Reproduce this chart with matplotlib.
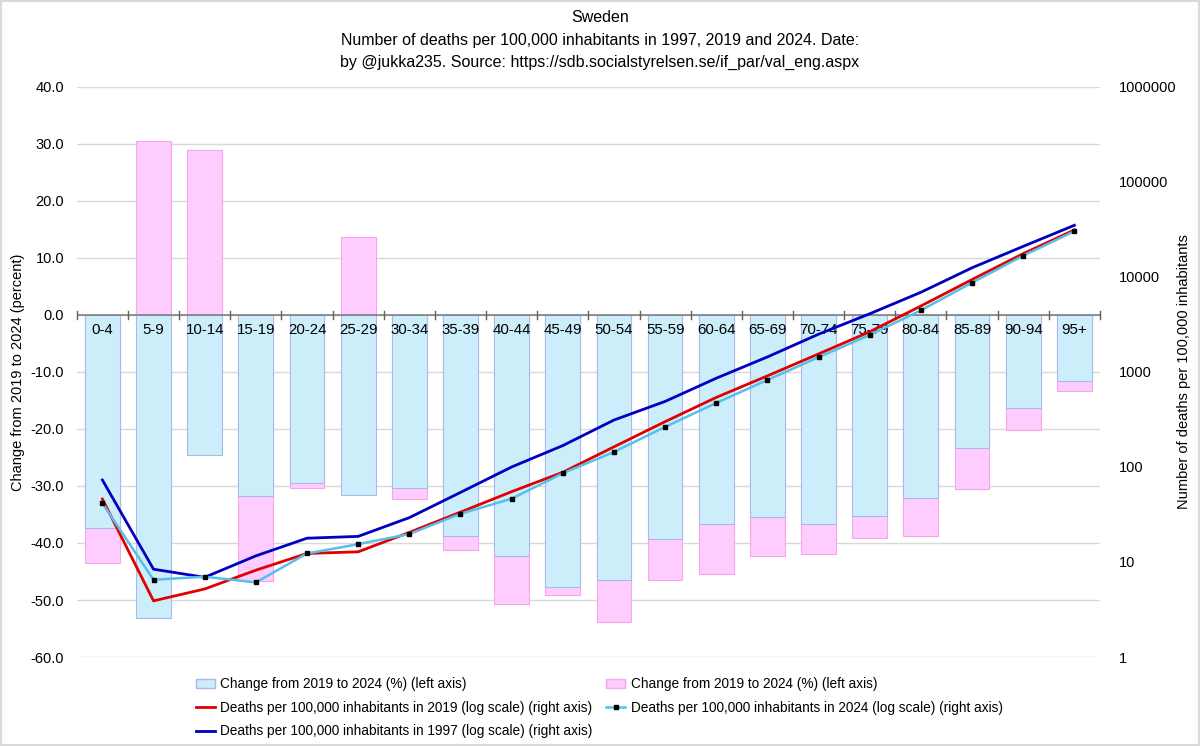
import matplotlib
matplotlib.use("Agg")
import matplotlib.pyplot as plt
from matplotlib.patches import Patch, Rectangle
from matplotlib.lines import Line2D
import numpy as np

categories = ["0-4", "5-9", "10-14", "15-19", "20-24", "25-29", "30-34", "35-39", "40-44", "45-49",
              "50-54", "55-59", "60-64", "65-69", "70-74", "75-79", "80-84", "85-89", "90-94", "95+"]
change_blue = [-37.3, -53.1, -24.5, -31.8, -29.4, -31.6, -30.3, -38.8, -42.2, -47.8,
               -46.5, -39.3, -36.7, -35.5, -36.6, -35.3, -32.1, -23.4, -16.3, -11.6]
change_pink = [-43.5, 30.5, 28.9, -46.7, -30.3, 13.6, -32.2, -41.2, -50.7, -49.2,
               -53.9, -46.5, -45.5, -42.2, -41.9, -39.1, -38.8, -30.5, -20.1, -13.3]
deaths_2019 = [46, 3.9, 5.2, 8.2, 12.3, 12.8, 20.5, 33.5, 55, 88,
               163, 300, 540, 910, 1550, 2650, 4950, 9400, 17600, 31250]
deaths_2024 = [41.5, 6.5, 7.0, 6.1, 12.3, 15.4, 19.7, 32.2, 46.4, 85.8,
               144, 264, 472, 824, 1430, 2450, 4460, 8710, 16760, 30300]
deaths_1997 = [73, 8.4, 6.9, 11.6, 17.8, 18.6, 29.3, 54, 100, 168,
               312, 490, 860, 1440, 2500, 4100, 6900, 12500, 21000, 35000]
left_ticks = [40, 30, 20, 10, 0, -10, -20, -30, -40, -50, -60]
right_ticks = [1, 10, 100, 1000, 10000, 100000, 1000000]

body_font = ["Liberation Sans", "DejaVu Sans"]
plt.rcParams['font.family'] = body_font

fig = plt.figure(figsize=(12, 7.46), dpi=100)
ax = fig.add_axes([0.064, 0.1193, 0.8526, 0.7641])
x = np.arange(len(categories))
w = 0.68

ax.bar(x, change_pink, width=w, color="#FFCCFF", edgecolor="#F4A6E6", linewidth=0.8, zorder=2)
ax.bar(x, change_blue, width=w, color="#CCEEFA", edgecolor="#A9B8EE", linewidth=0.8, zorder=3)

ax.set_xlim(-0.5, len(categories) - 0.5)
ax.set_ylim(-60, 40)
ax.set_yticks(left_ticks)
ax.set_yticklabels([f"{v:.1f}" for v in left_ticks], fontsize=10.5)
ax.grid(axis="y", color="#D9D9D9", linewidth=1, zorder=0)
ax.set_axisbelow(True)
for s in ["top", "right", "left", "bottom"]:
    ax.spines[s].set_visible(False)
ax.tick_params(axis="y", length=0, pad=9)
ax.set_xticks([])
ax.axhline(0, color="#808080", linewidth=1.2, zorder=4)
for b in np.arange(-0.5, len(categories), 1.0):
    ax.plot([b, b], [-0.7, 0.7], color="#606060", linewidth=1, zorder=4, clip_on=False)
for i, c in enumerate(categories):
    ax.text(i, -1.4, c, ha="center", va="top", fontsize=10.8, zorder=6)
ax.set_ylabel("Change from 2019 to 2024 (percent)", fontsize=10.5, labelpad=4)

ax2 = ax.twinx()
ax2.set_yscale("log")
ax2.set_ylim(1, 1e6)
ax2.set_xlim(-0.5, len(categories) - 0.5)
for s in ["top", "right", "left", "bottom"]:
    ax2.spines[s].set_visible(False)
ax2.set_yticks(right_ticks)
ax2.set_yticklabels([str(v) for v in right_ticks], fontsize=10.5)
ax2.yaxis.set_minor_locator(matplotlib.ticker.NullLocator())
ax2.tick_params(axis="y", length=0, pad=14)
ax2.set_ylabel("Number of deaths per 100,000 inhabitants", fontsize=10.5, labelpad=0)

ax2.plot(x, deaths_1997, color="#0000C0", linewidth=2, zorder=5)
ax2.plot(x, deaths_2019, color="#E00000", linewidth=2, zorder=5)
ax2.plot(x, deaths_2024, color="#55C0EC", linewidth=1.8, marker="s", markersize=2.8,
         markerfacecolor="black", markeredgecolor="black", zorder=6)

fig.text(0.5, 0.977, "Sweden", ha="center", va="center", fontsize=11.5)
fig.text(0.5, 0.946, "Number of deaths per 100,000 inhabitants in 1997, 2019 and 2024. Date:",
         ha="center", va="center", fontsize=11.5)
fig.text(0.5, 0.916, "by @jukka235. Source: https://sdb.socialstyrelsen.se/if_par/val_eng.aspx",
         ha="center", va="center", fontsize=11.5)

h_blue = Patch(facecolor="#CCEEFA", edgecolor="#A9B8EE", label="Change from 2019 to 2024 (%) (left axis)")
h_pink = Patch(facecolor="#FFCCFF", edgecolor="#F4A6E6", label="Change from 2019 to 2024 (%) (left axis)")
h_2019 = Line2D([], [], color="#E00000", linewidth=2,
                label="Deaths per 100,000 inhabitants in 2019 (log scale) (right axis)")
h_2024 = Line2D([], [], color="#55C0EC", linewidth=1.8, marker="s", markersize=2.8,
                markerfacecolor="black", markeredgecolor="black",
                label="Deaths per 100,000 inhabitants in 2024 (log scale) (right axis)")
h_1997 = Line2D([], [], color="#0000C0", linewidth=2,
                label="Deaths per 100,000 inhabitants in 1997 (log scale) (right axis)")
leg = fig.legend(handles=[h_blue, h_2019, h_1997, h_pink, h_2024], ncol=2,
                 loc="upper left", bbox_to_anchor=(0.163, 0.092), frameon=False,
                 prop={"size": 9.8}, handlelength=1.4, handletextpad=0.4,
                 columnspacing=1.0, labelspacing=0.7, borderaxespad=0, borderpad=0)

fig.patches.append(Rectangle((0.001, 0.001), 0.998, 0.998, transform=fig.transFigure,
                             fill=False, edgecolor="#D9D9D9", linewidth=1.5))
fig.savefig("out.png", dpi=100)
